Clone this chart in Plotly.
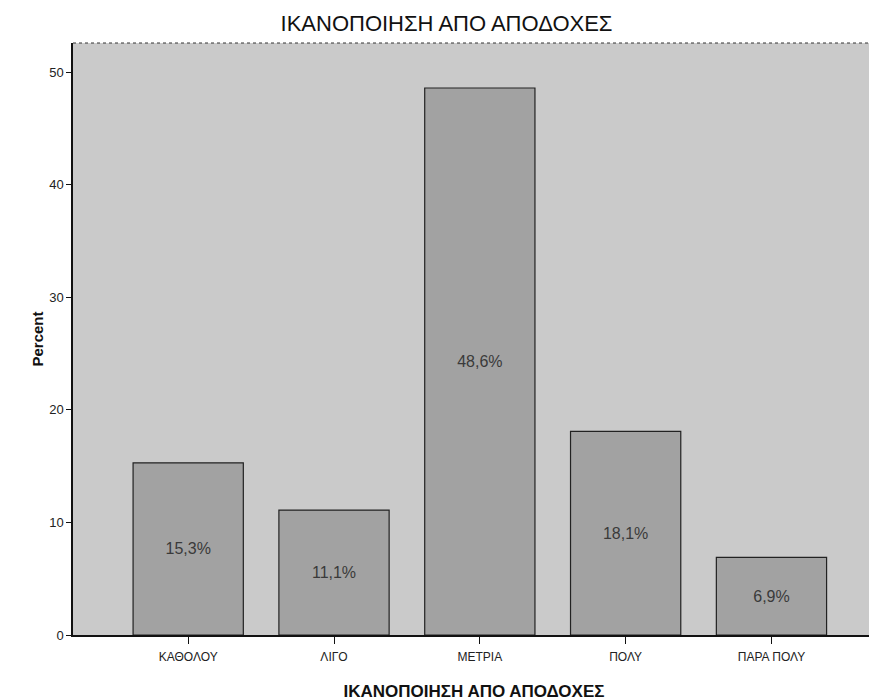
import plotly.graph_objects as go

categories = ["ΚΑΘΟΛΟΥ", "ΛΙΓΟ", "ΜΕΤΡΙΑ", "ΠΟΛΥ", "ΠΑΡΑ ΠΟΛΥ"]
percent = [15.3, 11.1, 48.6, 18.1, 6.9]
y_ticks = [0, 10, 20, 30, 40, 50]

labels = [f"{v:.1f}".replace(".", ",") + "%" for v in percent]

fig = go.Figure(
    go.Bar(
        x=list(range(len(categories))),
        y=percent,
        text=labels,
        textposition="inside",
        insidetextanchor="middle",
        textangle=0,
        textfont=dict(family="Liberation Sans, Arial, sans-serif", size=16, color="#3a3a3a"),
        marker=dict(color="#a2a2a2", line=dict(color="#222222", width=1.2)),
        width=0.756,
        hoverinfo="skip",
    )
)

fig.update_layout(
    width=877,
    height=700,
    margin=dict(l=65, r=10, t=35, b=73),
    paper_bgcolor="white",
    plot_bgcolor="#cacaca",
    showlegend=False,
    title=dict(
        text="ΙΚΑΝΟΠΟΙΗΣΗ ΑΠΟ ΑΠΟΔΟΧΕΣ",
        x=0.5,
        xanchor="center",
        y=0.978,
        yanchor="middle",
        font=dict(family="Liberation Sans, Arial, sans-serif", size=22, color="#111111"),
    ),
    font=dict(family="Liberation Sans, Arial, sans-serif", color="#111111"),
)

fig.update_xaxes(
    range=[-0.79, 4.71],
    tickmode="array",
    tickvals=list(range(len(categories))),
    ticktext=categories,
    ticks="outside",
    ticklen=7,
    tickcolor="#111111",
    tickfont=dict(size=12, color="#222222"),
    ticklabelstandoff=3,
    showline=True,
    linecolor="#111111",
    linewidth=1.5,
    showgrid=False,
    zeroline=False,
    title=dict(text="<b>ΙΚΑΝΟΠΟΙΗΣΗ ΑΠΟ ΑΠΟΔΟΧΕΣ</b>", font=dict(size=17, color="#111111"), standoff=22),
)

fig.update_yaxes(
    range=[0, 52.6],
    tickmode="array",
    tickvals=y_ticks,
    ticks="outside",
    ticklen=5,
    tickcolor="#111111",
    tickfont=dict(size=13, color="#222222"),
    showline=True,
    linecolor="#111111",
    linewidth=1.5,
    showgrid=False,
    zeroline=False,
    title=dict(text="<b>Percent</b>", font=dict(size=15, color="#111111"), standoff=2),
)

fig.add_shape(
    type="line", xref="paper", yref="paper", x0=0, x1=1, y0=1, y1=1,
    line=dict(color="#333333", width=1, dash="dot"),
)

fig.write_html("out.html")
